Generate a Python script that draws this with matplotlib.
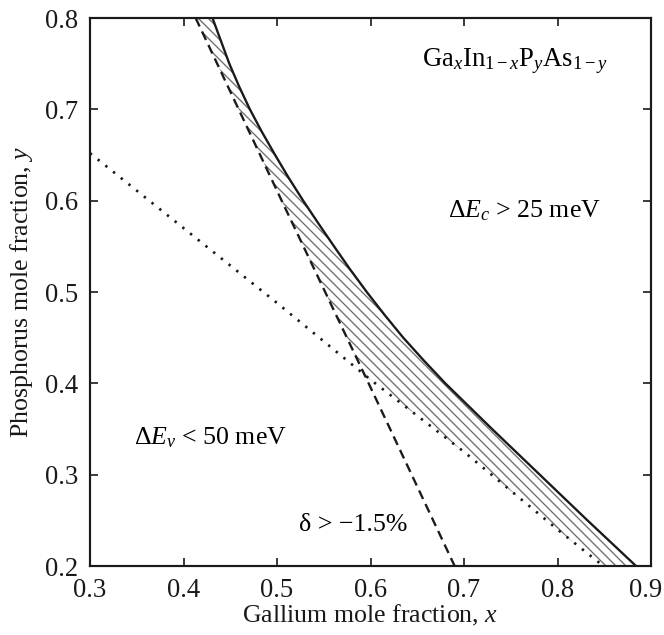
import numpy as np
import matplotlib
matplotlib.use("Agg")
import matplotlib.pyplot as plt
from matplotlib.transforms import ScaledTranslation

plt.rcParams['font.family'] = ['Liberation Serif', 'DejaVu Serif']
plt.rcParams['mathtext.fontset'] = 'custom'
plt.rcParams['mathtext.rm'] = 'Liberation Serif'
plt.rcParams['mathtext.it'] = 'Liberation Serif:italic'
plt.rcParams['hatch.linewidth'] = 0.8

# solid boundary (dEc > 25 meV): x read at fixed y
solid_y = [0.8, 0.775, 0.75, 0.725, 0.7, 0.675, 0.65, 0.625, 0.6, 0.575, 0.55,
           0.525, 0.5, 0.475, 0.45, 0.425, 0.4, 0.35, 0.3, 0.25, 0.2]
solid_x = [0.431, 0.440, 0.449, 0.4595, 0.471, 0.484, 0.498, 0.5125, 0.528, 0.5443, 0.561,
           0.578, 0.596, 0.615, 0.635, 0.657, 0.680, 0.730, 0.781, 0.832, 0.884]

# dashed boundary (strain delta > -1.5%)
dash_y = [0.8, 0.6, 0.4, 0.2]
dash_x = [0.413, 0.505, 0.598, 0.690]

# dotted boundary (dEv < 50 meV)
dot_x = [0.3, 0.4, 0.5, 0.6, 0.7, 0.8, 0.849]
dot_y = [0.652, 0.570, 0.488, 0.404, 0.325, 0.240, 0.2]

fig = plt.figure(figsize=(664/120, 635/120), dpi=120)
ax = fig.add_axes([90/664, 1-566/635, 561/664, 548/635])

# hatched window between the three limits
yy = np.linspace(0.2, 0.8, 400)
xs = np.interp(yy, solid_y[::-1], solid_x[::-1])
xd = np.interp(yy, dash_y[::-1], dash_x[::-1])
xt = np.interp(yy, dot_y[::-1], dot_x[::-1])
ax.fill_betweenx(yy, np.maximum(xd, xt), xs, facecolor='none',
                 edgecolor='#6e6e6e', hatch='\\' * 4, linewidth=0)

ax.plot(solid_x, solid_y, color='#1a1a1a', lw=1.4)
ax.plot(dash_x, dash_y, color='#1a1a1a', lw=1.4, ls=(0, (4, 2.4)))
ax.plot(dot_x, dot_y, color='#1a1a1a', lw=1.6, ls=(0, (0.9, 2.8)))

fs = 15.5
ax.text(0.655, 0.753, r'Ga$_x$In$_{1-x}$P$_y$As$_{1-y}$', fontsize=fs + 0.5, va='center')
ax.text(0.683, 0.589, r'$\Delta E_c$ > 25 meV', fontsize=fs, va='center')
ax.text(0.347, 0.340, r'$\Delta E_v$ < 50 meV', fontsize=fs, va='center')
ax.text(0.5235, 0.245, 'δ > −1.5%', fontsize=fs, va='center')

ax.set_xlim(0.3, 0.9)
ax.set_ylim(0.2, 0.8)
ax.set_xticks(np.arange(0.3, 0.91, 0.1))
ax.set_yticks(np.arange(0.2, 0.81, 0.1))
ax.set_xticklabels(['%.1f' % v for v in np.arange(0.3, 0.91, 0.1)])
ax.set_yticklabels(['%.1f' % v for v in np.arange(0.2, 0.81, 0.1)])
ax.tick_params(direction='in', length=5, width=1, top=True, right=True,
               labelsize=fs + 0.5, pad=7, color='#1a1a1a', labelcolor='#1a1a1a')
for s in ax.spines.values():
    s.set_linewidth(1.3)
    s.set_color('#1a1a1a')

# last x label sits a bit left so it stays inside the figure
last = ax.get_xticklabels()[-1]
last.set_transform(last.get_transform() + ScaledTranslation(-5/120, 0, fig.dpi_scale_trans))

ax.set_xlabel('Gallium mole fraction, $x$', fontsize=fs, labelpad=0, color='#1a1a1a')
ax.set_ylabel('Phosphorus mole fraction, $y$', fontsize=fs, labelpad=6, color='#1a1a1a')

fig.savefig('out.png', dpi=120)
